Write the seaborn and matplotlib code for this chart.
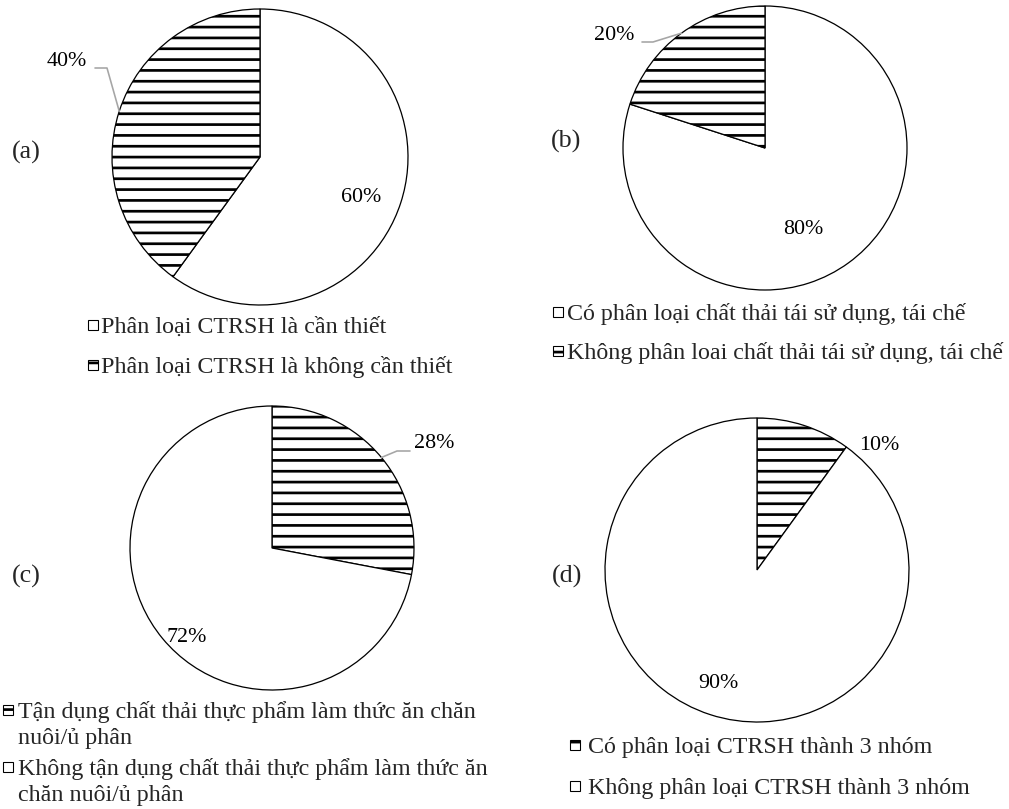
import numpy as np
import matplotlib
matplotlib.use("Agg")
import matplotlib.pyplot as plt
import seaborn as sns
from matplotlib.patches import Rectangle

# -----------------------------
# DATA
# -----------------------------
tags = ["(a)", "(b)", "(c)", "(d)"]

labels_a = ["Phân loại CTRSH là cần thiết",
            "Phân loại CTRSH là không cần thiết"]
values_a = [60, 40]
hatch_a = [False, True]

labels_b = ["Có phân loại chất thải tái sử dụng, tái chế",
            "Không phân loai chất thải tái sử dụng, tái chế"]
values_b = [80, 20]
hatch_b = [False, True]

labels_c = ["Tận dụng chất thải thực phẩm làm thức ăn chăn\nnuôi/ủ phân",
            "Không tận dụng chất thải thực phẩm làm thức ăn\nchăn nuôi/ủ phân"]
values_c = [28, 72]
hatch_c = [True, False]

labels_d = ["Có phân loại CTRSH thành 3 nhóm",
            "Không phân loại CTRSH thành 3 nhóm"]
values_d = [10, 90]
hatch_d = [True, False]

# -----------------------------
# LAYOUT (pixels, origin top-left)
# -----------------------------
W, H, DPI = 1009, 809, 130
LINE_GAP = 26

panels = [
    dict(values=values_a, labels=labels_a, hatch=hatch_a, tag=tags[0],
         center=(260, 157), r=148, tag_pos=(26, 152),
         pct_pos=[(361, 198), (67, 61)],
         leader=[None, [(107, 68), (95, 68)]],
         leg_x=(88, 101), leg_base=[333, 373]),
    dict(values=values_b, labels=labels_b, hatch=hatch_b, tag=tags[1],
         center=(765, 148), r=142, tag_pos=(566, 141),
         pct_pos=[(803, 230), (614, 35)],
         leader=[None, [(653, 42), (642, 42)]],
         leg_x=(553, 567), leg_base=[320, 359]),
    dict(values=values_c, labels=labels_c, hatch=hatch_c, tag=tags[2],
         center=(272, 548), r=142, tag_pos=(26, 576),
         pct_pos=[(434, 444), (187, 638)],
         leader=[[(397, 451), (410, 451)], None],
         leg_x=(3, 18), leg_base=[718, 775]),
    dict(values=values_d, labels=labels_d, hatch=hatch_d, tag=tags[3],
         center=(757, 570), r=152, tag_pos=(567, 576),
         pct_pos=[(879, 445), (718, 683)],
         leader=[None, None],
         leg_x=(570, 588), leg_base=[753, 794]),
]

PCT_SIZE = 22 * 72 / DPI
TAG_SIZE = 26 * 72 / DPI
LEG_SIZE = 24 * 72 / DPI

sns.set_theme(style="white")
plt.rcParams["font.family"] = ["Liberation Serif", "DejaVu Serif"]
plt.rcParams["hatch.linewidth"] = 1.5
plt.rcParams["hatch.color"] = "black"

fig = plt.figure(figsize=(W / DPI, H / DPI), dpi=DPI)
fig.patch.set_facecolor("white")


def fx(px):
    return px / W


def fy(py):
    return 1 - py / H


for p in panels:
    cx, cy = p["center"]
    r = p["r"]
    ax = fig.add_axes([fx(cx - r), fy(cy + r), 2 * r / W, 2 * r / H])
    wedges, _ = ax.pie(p["values"], startangle=90, counterclock=False,
                       colors=["white"] * len(p["values"]),
                       wedgeprops=dict(edgecolor="black", linewidth=0.7))
    for w, h in zip(wedges, p["hatch"]):
        if h:
            w.set_hatch("--")
    ax.set_xlim(-1, 1)
    ax.set_ylim(-1, 1)
    ax.axis("off")

    def to_data(pt):
        return ((pt[0] - cx) / r, (cy - pt[1]) / r)

    for i, w in enumerate(wedges):
        tx, ty = to_data(p["pct_pos"][i])
        ax.text(tx, ty, f"{p['values'][i]}%", ha="center", va="center",
                fontsize=PCT_SIZE, color="black")
        if p["leader"][i] is not None:
            mid = np.deg2rad((w.theta1 + w.theta2) / 2)
            pts = [(np.cos(mid), np.sin(mid))] + [to_data(q) for q in p["leader"][i]]
            ax.plot([q[0] for q in pts], [q[1] for q in pts],
                    color="#a6a6a6", lw=0.9, clip_on=False)

    fig.text(fx(p["tag_pos"][0]), fy(p["tag_pos"][1]), p["tag"],
             ha="center", va="center", fontsize=TAG_SIZE)

    # legend: small square marker + text, one baseline per line
    mx, tx = p["leg_x"]
    for lab, h, base in zip(p["labels"], p["hatch"], p["leg_base"]):
        fig.add_artist(Rectangle((fx(mx), fy(base - 3)), 10 / W, 10 / H,
                                 transform=fig.transFigure,
                                 facecolor="white", edgecolor="black",
                                 lw=0.6, hatch="--" if h else None))
        for k, line in enumerate(lab.split("\n")):
            fig.text(fx(tx), fy(base + k * LINE_GAP), line, ha="left",
                     va="baseline", fontsize=LEG_SIZE)

fig.savefig("out.png", dpi=DPI, facecolor="white")
